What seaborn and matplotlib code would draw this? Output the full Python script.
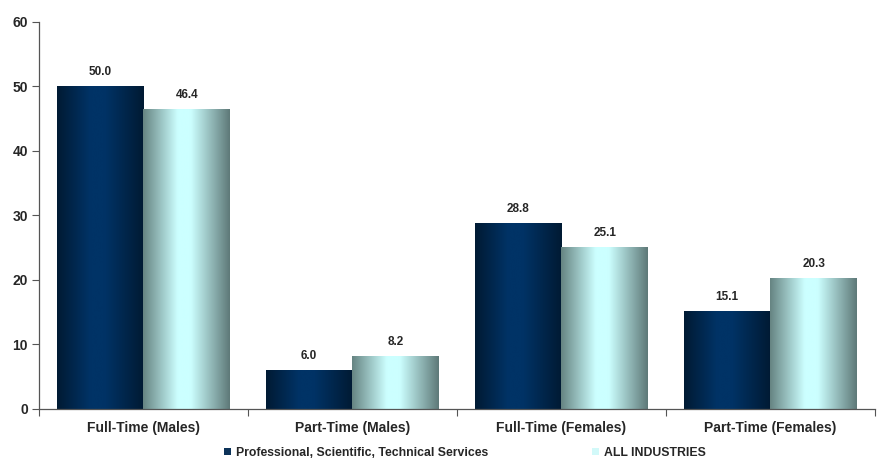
import numpy as np
import pandas as pd
import seaborn as sns
import matplotlib.pyplot as plt
from matplotlib.colors import LinearSegmentedColormap

# Data
categories = ["Full-Time (Males)", "Part-Time (Males)", "Full-Time (Females)", "Part-Time (Females)"]
series = ["Professional, Scientific, Technical Services", "ALL INDUSTRIES"]
prof_values = [50.0, 6.0, 28.8, 15.1]
all_values = [46.4, 8.2, 25.1, 20.3]

df = pd.DataFrame({
    "Category": categories * 2,
    "Series": [series[0]] * 4 + [series[1]] * 4,
    "Value": prof_values + all_values,
})

sns.set_style("white")
plt.rcParams["font.family"] = ["Liberation Sans", "DejaVu Sans"]
plt.rcParams["font.weight"] = "bold"

fig = plt.figure(figsize=(8.77, 4.61), dpi=100)
ax = fig.add_axes([0.0445, 0.1128, 0.953, 0.8395])

palette = {series[0]: "#003366", series[1]: "#ccffff"}
sns.barplot(data=df, x="Category", y="Value", hue="Series", palette=palette,
            width=0.83, ax=ax, legend=True, edgecolor="none")

# gradient fills (cylinder-like shading)
cmaps = [
    LinearSegmentedColormap.from_list("navy", [(0, "#001a33"), (0.38, "#003366"), (0.55, "#003366"), (1, "#001a33")]),
    LinearSegmentedColormap.from_list("cyan", [(0, "#668482"), (0.4, "#ccffff"), (0.55, "#ccffff"), (1, "#5e7978")]),
]
grad = np.linspace(0, 1, 256).reshape(1, -1)
for cont, cmap in zip(ax.containers, cmaps):
    for bar in cont:
        x0, y0 = bar.get_x(), bar.get_y()
        w, h = bar.get_width(), bar.get_height()
        ax.imshow(grad, cmap=cmap, aspect="auto", extent=(x0, x0 + w, y0, y0 + h),
                  interpolation="bicubic", zorder=bar.get_zorder() + 0.1)
    ax.bar_label(cont, fmt="%.1f", padding=6, fontsize=8.5, fontweight="bold")

ax.set_xlim(-0.5, 3.5)
ax.set_ylim(0, 60)
ax.set_yticks(range(0, 61, 10))
ax.set_xlabel("")
ax.set_ylabel("")
ax.tick_params(axis="y", labelsize=10, length=5, width=0.8, color="#555555", direction="out", left=True, pad=3)
ax.tick_params(axis="x", which="major", labelsize=10, length=0, pad=9)
ax.set_xticks(np.arange(-0.5, 3.6, 1), minor=True)
ax.tick_params(axis="x", which="minor", length=5, width=0.8, color="#555555", direction="out", bottom=True)
for lbl in ax.get_xticklabels() + ax.get_yticklabels():
    lbl.set_fontweight("bold")

sns.despine(ax=ax)
for s in ["left", "bottom"]:
    ax.spines[s].set_color("#555555")
    ax.spines[s].set_linewidth(0.9)

# legend at bottom
handles, labels = ax.get_legend_handles_labels()
ax.get_legend().remove()
leg = fig.legend(handles, labels, loc="center", bbox_to_anchor=(0.53, 0.018), ncol=2,
                 frameon=False, fontsize=8.8, handlelength=0.6, handleheight=0.6,
                 handletextpad=0.4, columnspacing=8.5, borderpad=0)
for t in leg.get_texts():
    t.set_fontweight("bold")

fig.savefig("out.png", dpi=100)
